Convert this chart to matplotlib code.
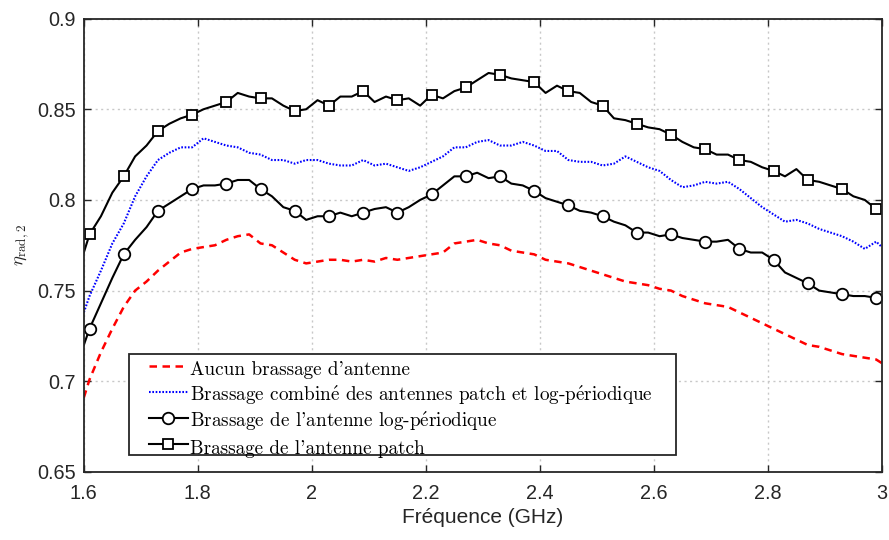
import numpy as np
import matplotlib
matplotlib.use("Agg")
import matplotlib.pyplot as plt
from matplotlib.patches import Rectangle

plt.rcParams['mathtext.fontset'] = 'cm'

# Frequency grid (GHz)
freq = [1.60] + [round(1.61 + 0.02 * i, 2) for i in range(70)] + [3.00]

patch = [0.771, 0.781, 0.791, 0.804, 0.813, 0.824, 0.830, 0.838, 0.842, 0.845,
         0.847, 0.850, 0.852, 0.854, 0.859, 0.857, 0.856, 0.856, 0.852, 0.849,
         0.850, 0.855, 0.852, 0.857, 0.857, 0.860, 0.854, 0.857, 0.855, 0.856,
         0.852, 0.858, 0.856, 0.860, 0.862, 0.866, 0.870, 0.869, 0.867, 0.866,
         0.865, 0.859, 0.863, 0.860, 0.859, 0.854, 0.852, 0.845, 0.844, 0.842,
         0.840, 0.839, 0.836, 0.832, 0.829, 0.828, 0.825, 0.825, 0.822, 0.821,
         0.818, 0.816, 0.813, 0.817, 0.811, 0.810, 0.808, 0.806, 0.802, 0.800,
         0.795, 0.794]

combined = [0.738, 0.747, 0.761, 0.776, 0.787, 0.802, 0.813, 0.822, 0.826, 0.829,
            0.829, 0.834, 0.832, 0.830, 0.829, 0.826, 0.825, 0.822, 0.822, 0.820,
            0.822, 0.822, 0.820, 0.819, 0.819, 0.822, 0.819, 0.820, 0.818, 0.816,
            0.818, 0.821, 0.824, 0.829, 0.829, 0.832, 0.833, 0.830, 0.830, 0.832,
            0.830, 0.827, 0.827, 0.822, 0.821, 0.821, 0.819, 0.820, 0.824, 0.821,
            0.818, 0.816, 0.811, 0.807, 0.808, 0.810, 0.809, 0.810, 0.806, 0.801,
            0.796, 0.792, 0.788, 0.789, 0.787, 0.784, 0.782, 0.780, 0.777, 0.773,
            0.777, 0.774]

logper = [0.720, 0.729, 0.743, 0.757, 0.770, 0.778, 0.785, 0.794, 0.798, 0.802,
          0.806, 0.808, 0.808, 0.809, 0.811, 0.811, 0.806, 0.802, 0.796, 0.794,
          0.789, 0.791, 0.791, 0.793, 0.791, 0.793, 0.795, 0.796, 0.793, 0.796,
          0.800, 0.803, 0.808, 0.813, 0.813, 0.815, 0.812, 0.813, 0.809, 0.808,
          0.805, 0.801, 0.799, 0.797, 0.794, 0.793, 0.791, 0.788, 0.786, 0.782,
          0.782, 0.780, 0.781, 0.779, 0.778, 0.777, 0.777, 0.778, 0.773, 0.771,
          0.771, 0.767, 0.760, 0.757, 0.754, 0.750, 0.749, 0.748, 0.747, 0.747,
          0.746, 0.746]

none = [0.691, 0.701, 0.716, 0.729, 0.741, 0.750, 0.755, 0.761, 0.766, 0.771,
        0.773, 0.774, 0.775, 0.778, 0.780, 0.781, 0.776, 0.775, 0.771, 0.767,
        0.765, 0.766, 0.767, 0.767, 0.766, 0.767, 0.766, 0.768, 0.767, 0.768,
        0.769, 0.770, 0.771, 0.776, 0.777, 0.778, 0.776, 0.775, 0.772, 0.771,
        0.770, 0.767, 0.766, 0.765, 0.763, 0.761, 0.759, 0.757, 0.755, 0.754,
        0.753, 0.751, 0.750, 0.747, 0.745, 0.743, 0.742, 0.741, 0.738, 0.735,
        0.732, 0.729, 0.726, 0.723, 0.720, 0.719, 0.717, 0.715, 0.714, 0.713,
        0.712, 0.710]

E = r"$\mathrm{\acute{e}}$"
labels = ["Aucun brassage d'antenne",
          "Brassage combin" + E + " des antennes patch et log-p" + E + "riodique",
          "Brassage de l'antenne log-p" + E + "riodique",
          "Brassage de l'antenne patch"]

marker_idx = list(range(1, 71, 3))

fig = plt.figure(figsize=(8.89, 5.40), dpi=100)
ax = fig.add_axes([0.0943, 0.126, 0.8977, 0.8396])

ax.plot(freq, none, color='red', ls=(0, (3.0, 2.2)), lw=1.8, label=labels[0])
ax.plot(freq, combined, color='blue', ls=(0, (0.8, 0.8)), lw=1.5, label=labels[1])
ax.plot(freq, logper, color='black', lw=1.5, marker='o', ms=8.3,
        mfc='white', mec='black', mew=1.3, markevery=marker_idx, label=labels[2])
ax.plot(freq, patch, color='black', lw=1.5, marker='s', ms=6.6,
        mfc='white', mec='black', mew=1.3, markevery=marker_idx, label=labels[3])

ax.set_xlim(1.6, 3.0)
ax.set_ylim(0.65, 0.9)
ax.set_xticks([1.6, 1.8, 2.0, 2.2, 2.4, 2.6, 2.8, 3.0])
ax.set_xticklabels(["1.6", "1.8", "2", "2.2", "2.4", "2.6", "2.8", "3"])
ax.set_yticks([0.65, 0.7, 0.75, 0.8, 0.85, 0.9])
ax.set_yticklabels(["0.65", "0.7", "0.75", "0.8", "0.85", "0.9"])
ax.grid(True, ls=(0, (1.5, 2.5)), color='#c8c8c8', lw=1.0)
ax.tick_params(direction='in', top=True, right=True, length=5, width=1.0,
               labelsize=14.3, colors='#262626')
ax.tick_params(axis='x', pad=9)
ax.tick_params(axis='y', pad=6)
for lab in ax.get_xticklabels() + ax.get_yticklabels():
    lab.set_family('Liberation Sans')
for s in ax.spines.values():
    s.set_linewidth(1.3)
    s.set_color('#262626')

ax.set_xlabel("Fr\u00e9quence (GHz)", fontsize=15, family='Liberation Sans',
              color='#262626', labelpad=3)
ax.set_ylabel(r"$\eta_{\mathrm{rad},2}$", fontsize=13.5, color='#262626', labelpad=4)

# legend frame
ax.add_patch(Rectangle((0.0566, 0.0375), 0.6855, 0.2228, transform=ax.transAxes,
                       facecolor='white', edgecolor='#262626', lw=1.3, zorder=4))
leg = ax.legend(loc='upper left', bbox_to_anchor=(0.082, 0.256),
                frameon=False,
                prop={'family': 'cmr10', 'size': 13.8},
                handlelength=2.0, handleheight=1.72, handletextpad=0.15,
                borderpad=0.0, labelspacing=0.0, borderaxespad=0.0)
leg.set_zorder(5)

fig.savefig("out.png", dpi=100)
